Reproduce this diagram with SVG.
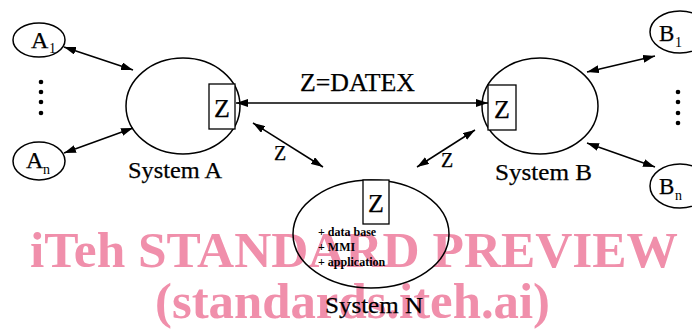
<svg xmlns="http://www.w3.org/2000/svg" width="692" height="330" viewBox="0 0 692 330">
  <defs>
    <marker id="head" viewBox="0 0 12 8" refX="12" refY="4" markerWidth="12" markerHeight="8" markerUnits="userSpaceOnUse" orient="auto-start-reverse">
      <path d="M0,0 L12,4 L0,8 z" fill="#000"/>
    </marker>
    <style>
      .shape { fill: none; stroke: #000; stroke-width: 1.5; }
      .box { fill: #fff; stroke: #000; stroke-width: 1.3; }
      .lbl { font-family: "Liberation Serif", "Times New Roman", serif; fill: #000; stroke: #000; stroke-width: 0.25; }
      .sub { font-family: "Liberation Serif", "Times New Roman", serif; fill: #000; font-size: 14px; }
      .note { font-family: "Liberation Serif", "Times New Roman", serif; font-weight: bold; font-size: 12px; fill: #000; }
      .dot { fill: #000; }
      .wire { stroke: #000; stroke-width: 1.5; fill: none; marker-start: url(#head); marker-end: url(#head); }
      .wm { font-family: "Liberation Serif", "Times New Roman", serif; font-weight: bold; font-size: 51px; fill: #f08fab; }
    </style>
  </defs>

  <rect width="692" height="330" fill="#fff"/>

  <!-- watermark -->
  <g id="watermark">
    <text class="wm" x="30" y="267" textLength="648" lengthAdjust="spacingAndGlyphs">iTeh STANDARD PREVIEW</text>
    <text class="wm" x="155" y="318" textLength="395" lengthAdjust="spacingAndGlyphs">(standards.iteh.ai)</text>
  </g>

  <!-- peripheral nodes A -->
  <g id="a1">
    <ellipse class="shape" cx="39" cy="40" rx="26" ry="17"/>
    <text class="lbl" x="31" y="48" font-size="24">A</text>
    <text class="sub" x="49" y="53">1</text>
  </g>
  <g id="a-dots">
    <circle class="dot" cx="41" cy="82" r="2.3"/>
    <circle class="dot" cx="41" cy="92" r="2.3"/>
    <circle class="dot" cx="41" cy="102" r="2.3"/>
    <circle class="dot" cx="41" cy="113" r="2.3"/>
  </g>
  <g id="an">
    <ellipse class="shape" cx="39" cy="161" rx="26" ry="19"/>
    <text class="lbl" x="26" y="168" font-size="24">A</text>
    <text class="sub" x="43" y="174">n</text>
  </g>

  <!-- peripheral nodes B -->
  <g id="b1">
    <ellipse class="shape" cx="680" cy="32" rx="30" ry="21"/>
    <text class="lbl" x="659" y="41" font-size="23">B</text>
    <text class="sub" x="675" y="47">1</text>
  </g>
  <g id="b-dots">
    <circle class="dot" cx="678" cy="92" r="2.3"/>
    <circle class="dot" cx="678" cy="102" r="2.3"/>
    <circle class="dot" cx="678" cy="113" r="2.3"/>
    <circle class="dot" cx="678" cy="123" r="2.3"/>
  </g>
  <g id="bn">
    <ellipse class="shape" cx="680" cy="186" rx="30" ry="22"/>
    <text class="lbl" x="659" y="194" font-size="23">B</text>
    <text class="sub" x="675" y="200">n</text>
  </g>

  <!-- main systems -->
  <g id="system-a">
    <ellipse class="shape" cx="183" cy="106" rx="57" ry="48"/>
    <rect class="box" x="209" y="84" width="26" height="45"/>
    <text class="lbl" x="222" y="117" font-size="26" text-anchor="middle">Z</text>
    <text class="lbl" x="128" y="178" font-size="23" textLength="94" lengthAdjust="spacingAndGlyphs">System A</text>
  </g>
  <g id="system-b">
    <ellipse class="shape" cx="540" cy="106" rx="58" ry="48"/>
    <rect class="box" x="488" y="85" width="28" height="45"/>
    <text class="lbl" x="502" y="118" font-size="26" text-anchor="middle">Z</text>
    <text class="lbl" x="495" y="180" font-size="23" textLength="97" lengthAdjust="spacingAndGlyphs">System B</text>
  </g>
  <g id="system-n">
    <ellipse class="shape" cx="371" cy="234" rx="78" ry="54"/>
    <rect class="box" x="363" y="180" width="26" height="44"/>
    <text class="lbl" x="376" y="212" font-size="26" text-anchor="middle">Z</text>
    <text class="note" x="318" y="236">+ data base</text>
    <text class="note" x="318" y="251">+ MMI</text>
    <text class="note" x="318" y="266">+ application</text>
    <text class="lbl" x="325" y="313" font-size="23" textLength="98" lengthAdjust="spacingAndGlyphs">System N</text>
  </g>

  <!-- connectors -->
  <g id="connectors">
    <line class="wire" x1="64" y1="47" x2="133" y2="70"/>
    <line class="wire" x1="64" y1="153" x2="133" y2="128"/>
    <line class="wire" x1="587" y1="72" x2="655" y2="56"/>
    <line class="wire" x1="587" y1="143" x2="655" y2="167"/>
    <line class="wire" x1="236" y1="103" x2="488" y2="103"/>
    <line class="wire" x1="253" y1="123" x2="323" y2="167"/>
    <line class="wire" x1="417" y1="167" x2="475" y2="130"/>
    <text class="lbl" x="300" y="91" font-size="25" textLength="115" lengthAdjust="spacingAndGlyphs">Z=DATEX</text>
    <text class="lbl" x="274" y="160" font-size="20">Z</text>
    <text class="lbl" x="441" y="167" font-size="20">Z</text>
  </g>
</svg>
